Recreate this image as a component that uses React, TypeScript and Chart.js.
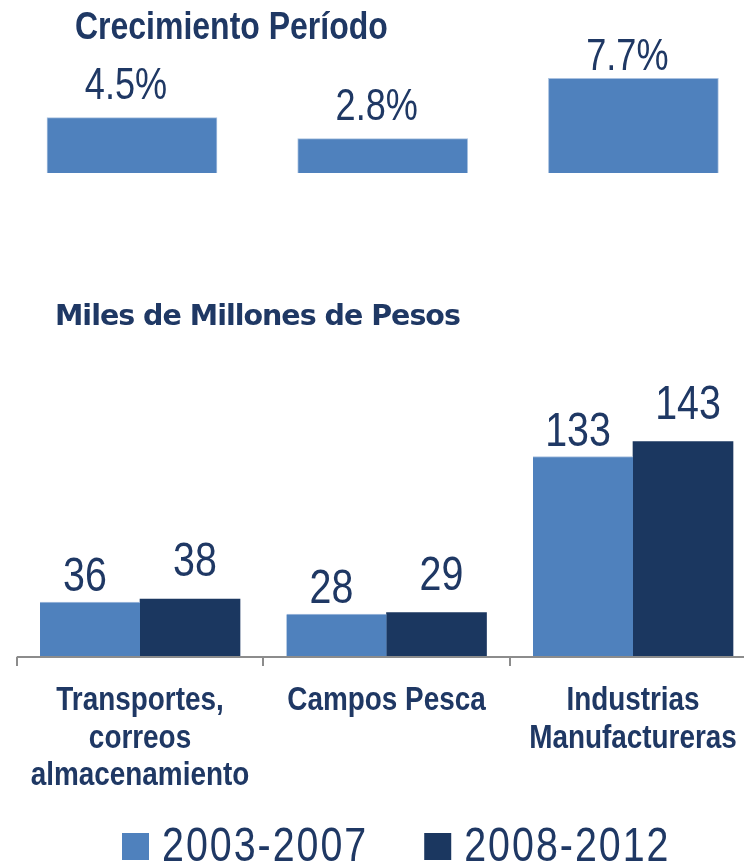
import React, { useEffect, useRef } from 'react';
import { Chart, registerables } from 'chart.js';

Chart.register(...registerables);

// ---- data ----
const sectorLabels: string[][] = [
  ['Transportes,', 'correos', 'almacenamiento'],
  ['Campos Pesca'],
  ['Industrias', 'Manufactureras'],
];
const growthValues = [4.5, 2.8, 7.7];
const period1Values = [36, 28, 133];
const period2Values = [38, 29, 143];
const periodNames = ['2003-2007', '2008-2012'];
const growthTitle = 'Crecimiento Período';
const valueTitle = 'Miles de Millones de Pesos';

// ---- style ----
const LIGHT = '#4F81BD';
const LIGHT_EDGE = '#A9C1E0';
const DARK = '#1B3760';
const TEXT = '#1F3864';
const AXIS = '#8C8C8C';
const SANS = '"Liberation Sans", Arial, sans-serif';
const NARROW_X = 0.82; // horizontal condensing of Liberation Sans (Arial Narrow look)
const WIDE_BOLD = '"DejaVu Sans", Verdana, sans-serif';

const W = 744;
const TOP_H = 250;
const BOTTOM_H = 863 - TOP_H;

function drawNarrow(
  ctx: CanvasRenderingContext2D,
  text: string,
  x: number,
  y: number,
  align: CanvasTextAlign,
  spacing = 0
) {
  ctx.save();
  ctx.translate(x, y);
  ctx.scale(NARROW_X, 1);
  ctx.textAlign = align;
  ctx.textBaseline = 'alphabetic';
  if (spacing) (ctx as any).letterSpacing = spacing / NARROW_X + 'px';
  ctx.fillText(text, 0, 0);
  const w = ctx.measureText(text).width * NARROW_X;
  ctx.restore();
  return w;
}

const topDecor = {
  id: 'topDecor',
  afterDatasetsDraw(chart: any) {
    const ctx = chart.ctx as CanvasRenderingContext2D;
    const area = chart.chartArea;
    ctx.save();
    ctx.fillStyle = TEXT;
    ctx.font = `bold 39px ${SANS}`;
    drawNarrow(ctx, growthTitle, 75, 39, 'left');

    ctx.font = `44px ${SANS}`;
    const meta = chart.getDatasetMeta(0);
    meta.data.forEach((bar: any, i: number) => {
      const baseline = Math.max(bar.y - 19, area.top + 20);
      drawNarrow(ctx, growthValues[i].toFixed(1) + '%', bar.x - 6, baseline, 'center');
    });
    ctx.restore();
  },
};

const bottomDecor = {
  id: 'bottomDecor',
  afterDatasetsDraw(chart: any) {
    const ctx = chart.ctx as CanvasRenderingContext2D;
    const area = chart.chartArea;
    const xs = chart.scales.x;
    ctx.save();

    // title
    ctx.save();
    ctx.fillStyle = TEXT;
    ctx.textAlign = 'left';
    ctx.textBaseline = 'alphabetic';
    ctx.font = `bold 28.5px ${WIDE_BOLD}`;
    (ctx as any).letterSpacing = '-1px';
    ctx.fillText(valueTitle, 55, area.top - 91);
    ctx.restore();

    // axis line + ticks at category boundaries
    const axisY = area.bottom + 1;
    const startX = xs.getPixelForValue(-0.5);
    ctx.strokeStyle = AXIS;
    ctx.lineWidth = 2;
    ctx.beginPath();
    ctx.moveTo(startX, axisY);
    ctx.lineTo(chart.width, axisY);
    for (let i = 0; i <= sectorLabels.length; i++) {
      const px = Math.round(xs.getPixelForValue(i - 0.5));
      ctx.moveTo(px, axisY);
      ctx.lineTo(px, axisY + 9);
    }
    ctx.stroke();

    // category labels
    ctx.fillStyle = TEXT;
    ctx.font = `bold 34px ${SANS}`;
    sectorLabels.forEach((lines, i) => {
      const cx = xs.getPixelForValue(i);
      lines.forEach((line, j) => {
        drawNarrow(ctx, line, cx, area.bottom + 54 + j * 37.5, 'center');
      });
    });

    // value labels
    ctx.font = `48px ${SANS}`;
    chart.data.datasets.forEach((ds: any, d: number) => {
      const meta = chart.getDatasetMeta(d);
      meta.data.forEach((bar: any, i: number) => {
        drawNarrow(ctx, String(ds.data[i].y), bar.x + ds.labelDx, bar.y - ds.labelGap, 'center');
      });
    });

    // legend
    const legendBaseline = chart.height - 2;
    let lx = 122;
    ctx.font = `48px ${SANS}`;
    chart.data.datasets.forEach((ds: any) => {
      ctx.fillStyle = ds.backgroundColor;
      ctx.fillRect(lx, legendBaseline - 28, 27, 27);
      ctx.fillStyle = TEXT;
      const tw = drawNarrow(ctx, ds.label, lx + 40, legendBaseline, 'left', 2);
      lx += 40 + tw + 56;
    });
    ctx.restore();
  },
};

export default function App() {
  const topRef = useRef<HTMLCanvasElement>(null);
  const bottomRef = useRef<HTMLCanvasElement>(null);

  useEffect(() => {
    const topChart = new Chart(topRef.current as HTMLCanvasElement, {
      type: 'bar',
      data: {
        datasets: [
          {
            label: growthTitle,
            data: growthValues.map((v, i) => ({ x: i, y: v })),
            backgroundColor: LIGHT,
            borderColor: LIGHT_EDGE,
            borderWidth: 1,
            barThickness: 170,
          } as any,
        ],
      },
      options: {
        animation: false,
        responsive: false,
        layout: { padding: { top: 50, bottom: 77, left: 0, right: 0 } },
        plugins: {
          legend: { display: false },
          tooltip: { enabled: false },
          title: { display: false },
        },
        scales: {
          x: { type: 'linear', offset: false, min: -0.5265, max: 2.4412, display: false },
          y: { min: 0, max: 10, display: false },
        },
      },
      plugins: [topDecor],
    });

    const bottomChart = new Chart(bottomRef.current as HTMLCanvasElement, {
      type: 'bar',
      data: {
        datasets: [
          {
            label: periodNames[0],
            data: period1Values.map((v, i) => ({ x: i, y: v })),
            backgroundColor: LIGHT,
            borderColor: LIGHT_EDGE,
            borderWidth: { top: 1, left: 0, right: 0, bottom: 0 },
            barThickness: 100,
            labelGap: 11,
            labelDx: -5,
          } as any,
          {
            label: periodNames[1],
            data: period2Values.map((v, i) => ({ x: i, y: v })),
            backgroundColor: DARK,
            barThickness: 100,
            labelGap: 23,
            labelDx: 5,
          } as any,
        ],
      },
      options: {
        animation: false,
        responsive: false,
        layout: { padding: { top: 166, bottom: 207, left: 0, right: 0 } },
        plugins: {
          legend: { display: false },
          tooltip: { enabled: false },
          title: { display: false },
        },
        scales: {
          x: { type: 'linear', offset: false, min: -0.568, max: 2.4503, display: false },
          y: { min: 0, max: 160, display: false },
        },
      },
      plugins: [bottomDecor],
    });

    return () => {
      topChart.destroy();
      bottomChart.destroy();
    };
  }, []);

  return (
    <div style={{ position: 'absolute', left: 0, top: 0, width: W, height: 863, background: '#fff' }}>
      <canvas ref={topRef} width={W} height={TOP_H} style={{ display: 'block', width: W, height: TOP_H }} />
      <canvas ref={bottomRef} width={W} height={BOTTOM_H} style={{ display: 'block', width: W, height: BOTTOM_H }} />
    </div>
  );
}
